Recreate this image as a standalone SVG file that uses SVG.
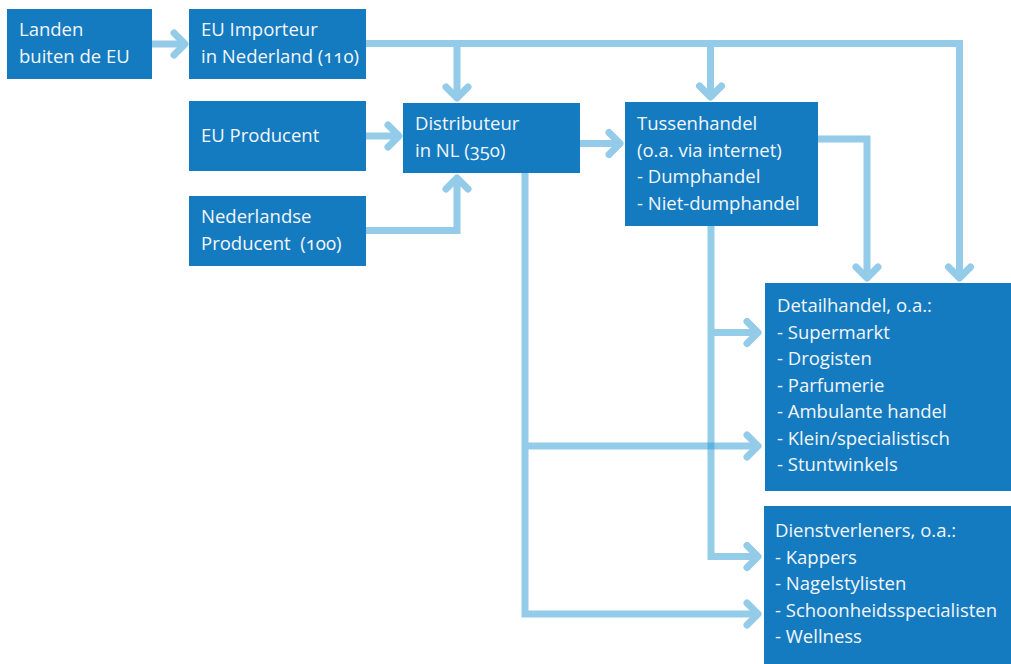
<svg xmlns="http://www.w3.org/2000/svg" width="1011" height="664" viewBox="0 0 1011 664">
<defs>
<style>
.box{fill:#157bc0}
.t{font-family:"Open Sans","Noto Sans","Liberation Sans",sans-serif;font-size:18.5px;fill:#f2f6fa;font-variant-numeric:oldstyle-nums}
.c{fill:none;stroke:#93cbe8;stroke-width:7;stroke-linejoin:miter}
.cx{fill:none;stroke:#2a9bd2;stroke-opacity:0.5;stroke-width:7}
</style>
<marker id="ah" markerUnits="userSpaceOnUse" viewBox="-16 -14 20 28" markerWidth="20" markerHeight="28" refX="0" refY="0" orient="auto" overflow="visible">
<path d="M-11,-11 L0,0 L-11,11" fill="none" stroke="#93cbe8" stroke-width="7" stroke-linecap="round" stroke-linejoin="round"/>
</marker>
<marker id="ahx" markerUnits="userSpaceOnUse" viewBox="-16 -14 20 28" markerWidth="20" markerHeight="28" refX="0" refY="0" orient="auto" overflow="visible">
<path d="M-11,-11 L0,0 L-11,11" fill="none" stroke="#93cbe8" stroke-width="7" stroke-linecap="round" stroke-linejoin="round"/>
</marker>
</defs>
<rect width="1011" height="664" fill="#ffffff"/>
<g id="connectors">
<path class="c" d="M152,44 L185,44" marker-end="url(#ah)"/>
<path class="c" d="M366,43.5 L959.5,43.5 L959.5,278" marker-end="url(#ah)"/>
<path class="c" d="M457,43.5 L457,98" marker-end="url(#ah)"/>
<path class="c" d="M710.5,43.5 L710.5,97" marker-end="url(#ah)"/>
<path class="c" d="M818,139 L867,139 L867,278" marker-end="url(#ah)"/>
<path class="c" d="M366,136 L399,136" marker-end="url(#ah)"/>
<path class="c" d="M366,230.5 L457,230.5 L457,178" marker-end="url(#ah)"/>
<path class="c" d="M580,143.5 L620,143.5" marker-end="url(#ah)"/>
<path class="c" d="M525,173 L525,614 L758,614" marker-end="url(#ah)"/>
<path class="c" d="M525,446 L758,446" marker-end="url(#ah)"/>
<path class="cx" d="M711,226 L711,556.5 L758,556.5 M711,332.5 L758,332.5"/>
<path class="c" d="M745,556.5 L758,556.5" marker-end="url(#ah)"/>
<path class="c" d="M745,332.5 L758,332.5" marker-end="url(#ah)"/>
</g>
<g id="landen">
<rect class="box" x="7" y="9" width="145" height="70"/>
<text class="t" x="19" y="36">Landen</text>
<text class="t" x="19" y="63">buiten de EU</text>
</g>
<g id="importeur">
<rect class="box" x="189" y="9" width="177" height="70"/>
<text class="t" x="201" y="36">EU Importeur</text>
<text class="t" x="201" y="63">in Nederland (110)</text>
</g>
<g id="eu-producent">
<rect class="box" x="189" y="101" width="177" height="70"/>
<text class="t" x="201" y="142">EU Producent</text>
</g>
<g id="nl-producent">
<rect class="box" x="189" y="196" width="177" height="70"/>
<text class="t" x="201" y="223">Nederlandse</text>
<text class="t" x="201" y="250" xml:space="preserve">Producent  (100)</text>
</g>
<g id="distributeur">
<rect class="box" x="403" y="103" width="177" height="70"/>
<text class="t" x="415" y="130">Distributeur</text>
<text class="t" x="415" y="157">in NL (350)</text>
</g>
<g id="tussenhandel">
<rect class="box" x="625" y="102" width="193" height="124"/>
<text class="t" x="637" y="130">Tussenhandel</text>
<text class="t" x="637" y="157">(o.a. via internet)</text>
<text class="t" x="637" y="183">- Dumphandel</text>
<text class="t" x="637" y="210">- Niet-dumphandel</text>
</g>
<g id="detailhandel">
<rect class="box" x="765" y="283" width="246" height="208"/>
<text class="t" x="777" y="312">Detailhandel, o.a.:</text>
<text class="t" x="777" y="338.5">- Supermarkt</text>
<text class="t" x="777" y="365">- Drogisten</text>
<text class="t" x="777" y="391.5">- Parfumerie</text>
<text class="t" x="777" y="418">- Ambulante handel</text>
<text class="t" x="777" y="444.5">- Klein/specialistisch</text>
<text class="t" x="777" y="471">- Stuntwinkels</text>
</g>
<g id="dienstverleners">
<rect class="box" x="764" y="506" width="247" height="158"/>
<text class="t" x="775" y="537">Dienstverleners, o.a.:</text>
<text class="t" x="775" y="563.5">- Kappers</text>
<text class="t" x="775" y="590">- Nagelstylisten</text>
<text class="t" x="775" y="616.5">- Schoonheidsspecialisten</text>
<text class="t" x="775" y="643">- Wellness</text>
</g>
</svg>
